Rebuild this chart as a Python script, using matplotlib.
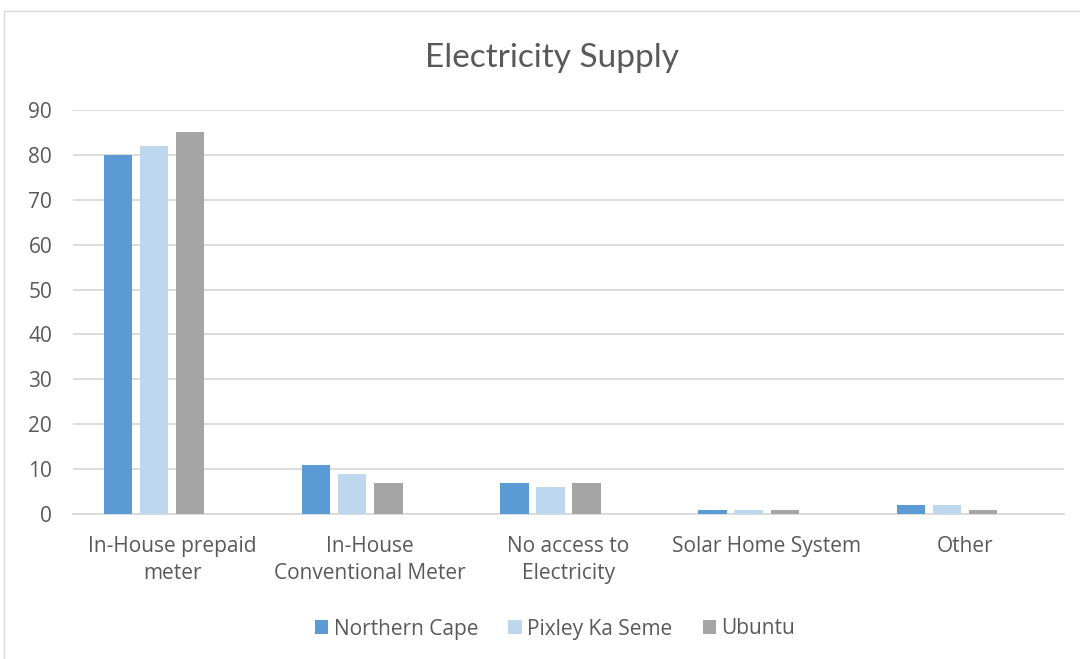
import numpy as np
import matplotlib.pyplot as plt
from matplotlib.patches import Rectangle

categories = ["In-House prepaid\nmeter", "In-House\nConventional Meter",
              "No access to\nElectricity", "Solar Home System", "Other"]
northern_cape = [80, 11, 7, 1, 2]
pixley = [82, 9, 6, 1, 2]
ubuntu = [85, 7, 7, 1, 1]

series = [("Northern Cape", northern_cape, "#5b9bd5"),
          ("Pixley Ka Seme", pixley, "#bdd7ee"),
          ("Ubuntu", ubuntu, "#a5a5a5")]

plt.rcParams['font.family'] = ['Open Sans', 'DejaVu Sans']
txt = "#595959"

fig = plt.figure(figsize=(10.8, 6.59), dpi=100)
# chart border
fig.patches.append(Rectangle((4 / 1080, -0.05), 1.1, 1 - 11 / 659 + 0.05,
                             transform=fig.transFigure, fill=False,
                             edgecolor="#d9d9d9", linewidth=1))

ax = fig.add_axes([73 / 1080, 145 / 659, 991 / 1080, 404 / 659])
x = np.arange(len(categories))
w = 0.143
step = 0.182
# the source chart leaves room for a fourth (empty) slot in each group
for i, (name, vals, col) in enumerate(series):
    ax.bar(x + (i - 1.5) * step, vals, w, color=col, label=name, zorder=3)

ax.set_xlim(-0.5, 4.5)
ax.set_ylim(0, 90)
ax.set_yticks(range(0, 91, 10))
ax.grid(axis="y", color="#d9d9d9", linewidth=1.3, zorder=0)
for s in ["top", "right", "left"]:
    ax.spines[s].set_visible(False)
ax.spines["bottom"].set_color("#d9d9d9")
ax.spines["bottom"].set_linewidth(1.3)
ax.set_xticks(x)
ax.set_xticklabels(categories, fontsize=15, color=txt, linespacing=1.38)
ax.tick_params(axis="both", length=0, labelsize=15, labelcolor=txt)
ax.tick_params(axis="x", pad=16)
ax.tick_params(axis="y", pad=15)

fig.text(552 / 1080, 1 - 58 / 659, "Electricity Supply", ha="center", va="center",
         fontsize=24, color=txt, family="Lato")

fig.legend(loc="center", bbox_to_anchor=(555 / 1080, 1 - 629 / 659), ncol=3,
           frameon=False, fontsize=15, handlelength=0.65, handleheight=0.65,
           handletextpad=0.25, columnspacing=1.45, labelcolor=txt)

fig.savefig("out.png", dpi=100)
